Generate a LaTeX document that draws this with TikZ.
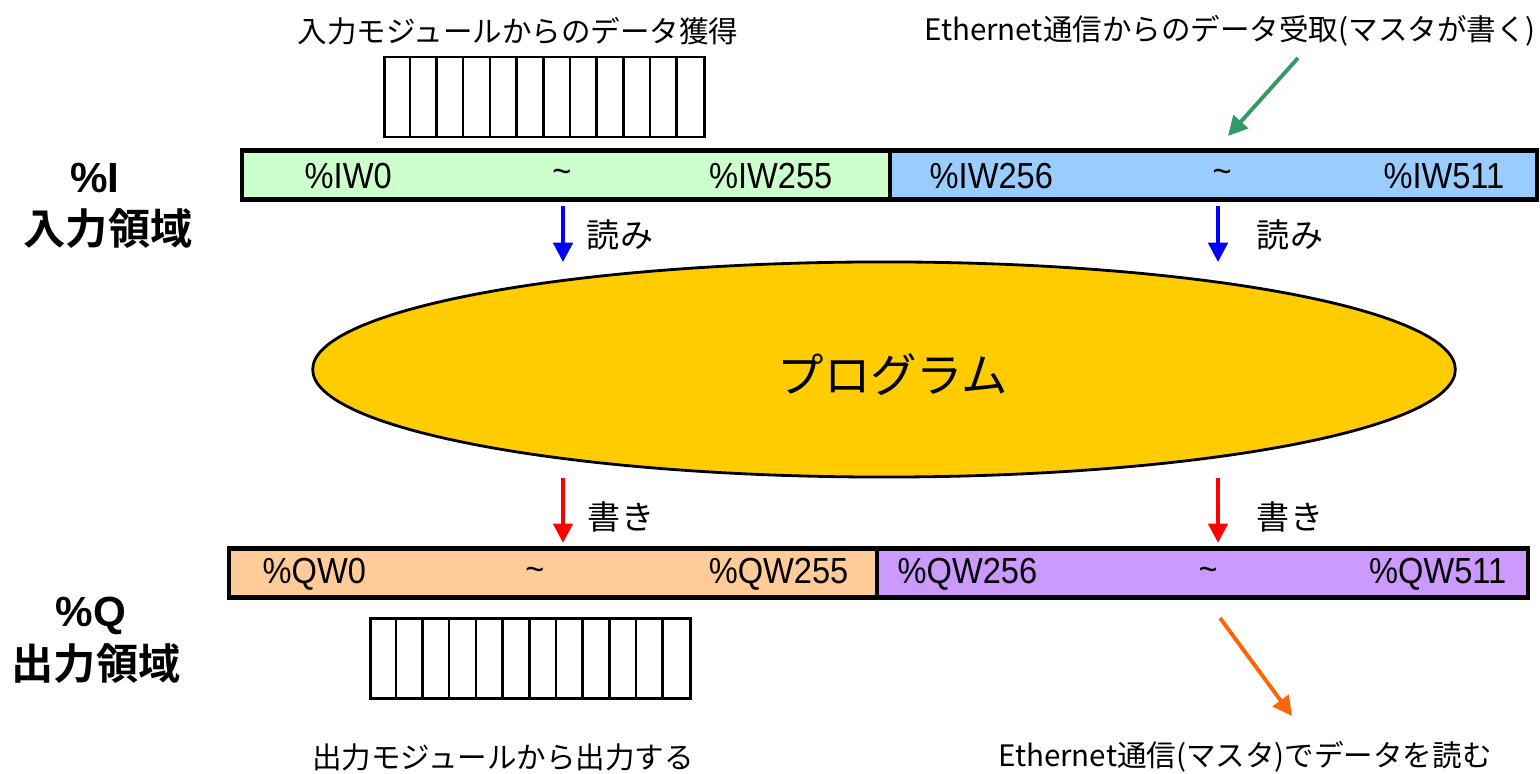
\documentclass[tikz,border=0pt]{standalone}
\usepackage{fontspec}
\setmainfont{Liberation Sans}
\newfontfamily\jp[BoldFont={Noto Sans CJK JP Bold}]{Noto Sans CJK JP}
\newfontfamily\barfont[FakeStretch=0.9]{Liberation Sans}
\usetikzlibrary{arrows.meta,shapes.geometric}

\definecolor{inlow}{HTML}{CCFFCC}
\definecolor{inhigh}{HTML}{99CCFF}
\definecolor{outlow}{HTML}{FFCC99}
\definecolor{outhigh}{HTML}{CC99FF}
\definecolor{proggold}{HTML}{FFCC00}
\definecolor{netgreen}{HTML}{339966}
\definecolor{netorange}{HTML}{FF6600}

\tikzset{
    area/.style={draw, line width=1.2pt, inner sep=0pt, minimum height=0.49cm},
    addr/.style={inner sep=0pt, font=\barfont\fontsize{10.3}{10.3}\selectfont},
    rack/.style={draw, line width=0.7pt, minimum width=3.2cm, minimum height=0.8cm, inner sep=0pt},
    caption/.style={inner sep=0pt, font=\jp\fontsize{8.4}{8.4}\selectfont},
    side/.style={inner sep=0pt, font=\jp\bfseries\fontsize{12}{12}\selectfont},
    access/.style={inner sep=0pt, font=\jp\fontsize{9.4}{9.4}\selectfont},
    readarrow/.style={blue, line width=1.1pt, -{Triangle[width=5.5pt,length=5.5pt]}},
    writearrow/.style={red, line width=1.1pt, -{Triangle[width=5.5pt,length=5.5pt]}},
    netarrow/.style={line width=1.1pt, -{Triangle[width=5.5pt,length=5.5pt]}}
}

\begin{document}
\begin{tikzpicture}[x=0.01cm, y=-0.01cm]

    \useasboundingbox (0,0) rectangle (1540,774);

    % input area %I
    \node[area, fill=inlow, minimum width=6.48cm] (iwlo) at (566,175) {};
    \node[area, fill=inhigh, minimum width=6.47cm] (iwhi) at (1213.5,175) {};

    \node[addr, anchor=west] (iw0) at (304,176) {\%IW0};
    \node[addr] (iwt1) at (562,176) {\textasciitilde};
    \node[addr, anchor=east] (iw255) at (833,176) {\%IW255};
    \node[addr, anchor=west] (iw256) at (929,176) {\%IW256};
    \node[addr] (iwt2) at (1222,176) {\textasciitilde};
    \node[addr, anchor=east] (iw511) at (1505,176) {\%IW511};

    % output area %Q
    \node[area, fill=outlow, minimum width=6.48cm] (qwlo) at (553,573) {};
    \node[area, fill=outhigh, minimum width=6.51cm] (qwhi) at (1202.5,573) {};

    \node[addr, anchor=west] (qw0) at (262,574) {\%QW0};
    \node[addr] (qwt1) at (535,574) {\textasciitilde};
    \node[addr, anchor=east] (qw255) at (849,574) {\%QW255};
    \node[addr, anchor=west] (qw256) at (897,574) {\%QW256};
    \node[addr] (qwt2) at (1208,574) {\textasciitilde};
    \node[addr, anchor=east] (qw511) at (1507,574) {\%QW511};

    % modules
    \node[rack] (inrack) at (544.5,97) {};
    \foreach \i in {1,...,11}
        \draw[line width=0.7pt] ([xshift=\i*0.26667cm]inrack.north west) -- ([xshift=\i*0.26667cm]inrack.south west);
    \node[rack] (outrack) at (530.5,658.5) {};
    \foreach \i in {1,...,11}
        \draw[line width=0.7pt] ([xshift=\i*0.26667cm]outrack.north west) -- ([xshift=\i*0.26667cm]outrack.south west);

    % program
    \node[ellipse, draw, line width=0.8pt, fill=proggold, inner sep=0pt,
          minimum width=11.42cm, minimum height=2.15cm] (prog) at (884,369.5) {};
    \node[inner sep=0pt, font=\jp\fontsize{13.2}{13.2}\selectfont] (progtext) at (893,375) {プログラム};

    % side labels
    \node[side, font=\bfseries\fontsize{12}{12}\selectfont] (ipct) at (95,178) {\%I};
    \node[side] (iname) at (108,229) {入力領域};
    \node[side, font=\bfseries\fontsize{12}{12}\selectfont] (qpct) at (91,616) {\%Q};
    \node[side] (qname) at (96,664) {出力領域};

    % captions
    \node[caption] (incap) at (518,31) {入力モジュールからのデータ獲得};
    \node[caption] (netincap) at (1230,31) {Ethernet通信からのデータ受取(マスタが書く)};
    \node[caption] (outcap) at (503,757) {出力モジュールから出力する};
    \node[caption] (netoutcap) at (1245,757) {Ethernet通信(マスタ)でデータを読む};

    % read / write
    \coordinate (rd1) at (563,262);
    \coordinate (rd2) at (1218,262);
    \draw[readarrow, shorten <=1.2pt] (iwlo.south -| rd1) -- (rd1);
    \draw[readarrow, shorten <=1.2pt] (iwhi.south -| rd2) -- (rd2);
    \node[access] (rdlab1) at (620,235) {読み};
    \node[access] (rdlab2) at (1290,235) {読み};

    \coordinate (wr1) at (563,478);
    \coordinate (wr2) at (1218,478);
    \draw[writearrow, shorten >=1pt] (wr1) -- (qwlo.north -| wr1);
    \draw[writearrow, shorten >=1pt] (wr2) -- (qwhi.north -| wr2);
    \node[access] (wrlab1) at (621,517) {書き};
    \node[access] (wrlab2) at (1290,517) {書き};

    % ethernet
    \coordinate (netin) at (1298,58);
    \coordinate (netinend) at (1228,136);
    \draw[netarrow, netgreen] (netin) -- (netinend);
    \coordinate (netout) at (1220,618);
    \coordinate (netoutend) at (1292,716);
    \draw[netarrow, netorange] (netout) -- (netoutend);

\end{tikzpicture}
\end{document}
